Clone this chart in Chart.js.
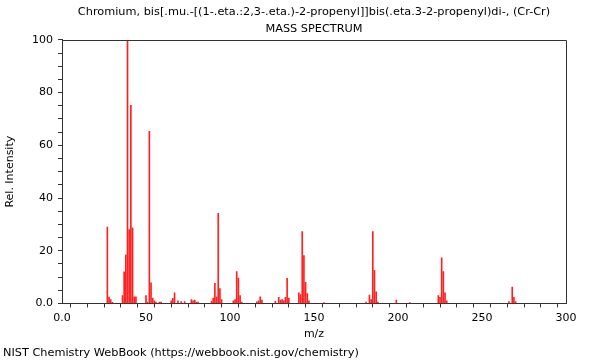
<!DOCTYPE html>
<html>
<head>
<meta charset="utf-8">
<script src="https://cdn.jsdelivr.net/npm/chart.js@4.4.0/dist/chart.umd.min.js"></script>
<style>
  body { margin: 0; background: #fff; }
  canvas { display: block; }
</style>
</head>
<body>
<canvas id="spectrum" width="600" height="360"></canvas>
<script>
// peaks (m/z, relative intensity)
const mz = [27, 28, 29, 30, 36, 37, 38, 39, 40, 41, 42, 43, 44, 50, 51, 52, 53, 54, 55, 56, 58, 59,
  65, 66, 67, 69, 71, 73, 77, 78, 79, 80, 81, 89, 90, 91, 92, 93, 94, 95, 102, 103, 104, 105, 106, 107,
  116, 117, 118, 119, 127, 129, 130, 131, 132, 133, 134, 135, 141, 142, 143, 144, 145, 146, 147, 156,
  181, 183, 184, 185, 186, 187, 188, 199, 207, 224, 225, 226, 227, 228, 229, 266, 268, 269, 270];
const intensity = [29, 2.4, 1.5, 0.4, 3, 12, 18.4, 100, 28, 75.2, 28.7, 2.5, 2.5, 3, 0.5, 65.3, 7.8, 2, 1, 0.5, 0.5, 0.5,
  1, 1.9, 4, 1, 0.7, 0.7, 1.5, 1, 1.3, 0.5, 0.5, 0.8, 2, 7.6, 2.5, 34.2, 5.6, 1.5, 1, 1.5, 12.1, 9.6, 3, 0.5,
  0.6, 1, 2.5, 1.3, 0.8, 2.3, 1.3, 1.5, 1, 2.3, 9.5, 2, 4, 3.4, 27.3, 18.2, 8, 3.7, 1, 0.3,
  0.5, 3.2, 1.5, 27.3, 12.6, 4.4, 0.5, 1.3, 0.3, 3, 2.3, 17.3, 12.1, 4, 1, 0.7, 6.2, 2.3, 0.7];

const xLabels = [0, 50, 100, 150, 200, 250, 300];
const yLabels = [0, 20, 40, 60, 80, 100];

Chart.defaults.font.family = "'DejaVu Sans', sans-serif";
Chart.defaults.font.size = 11;
Chart.defaults.color = '#000';

// top and right edges of the plot box
const frame = {
  id: 'frame',
  afterDraw(chart) {
    const { ctx, chartArea: a } = chart;
    ctx.save();
    ctx.strokeStyle = '#333';
    ctx.lineWidth = 1;
    ctx.beginPath();
    ctx.moveTo(a.left, Math.round(a.top) + 0.5);
    ctx.lineTo(Math.round(a.right) + 0.5, Math.round(a.top) + 0.5);
    ctx.lineTo(Math.round(a.right) + 0.5, a.bottom);
    ctx.stroke();
    ctx.restore();
  }
};

const tickText = (list) => (v) => list.includes(v) ? (v === 0 ? '0.0' : String(v)) : '';

new Chart(document.getElementById('spectrum'), {
  type: 'bar',
  data: {
    datasets: [{
      data: mz.map((m, i) => ({ x: m, y: intensity[i] })),
      backgroundColor: '#ff2020',
      borderWidth: 0,
      barThickness: 1
    }]
  },
  options: {
    responsive: false,
    animation: false,
    layout: { padding: { left: 3, right: 34, top: 0, bottom: 0 } },
    plugins: {
      legend: { display: false },
      tooltip: { enabled: false },
      title: {
        display: true,
        fullSize: false,
        text: ['Chromium, bis[.mu.-[(1-.eta.:2,3-.eta.)-2-propenyl]]bis(.eta.3-2-propenyl)di-, (Cr-Cr)', 'MASS SPECTRUM'],
        color: '#000',
        font: { size: 11.3, weight: 'normal', lineHeight: 1.5 },
        padding: { top: 4, bottom: 2 }
      },
      subtitle: {
        display: true,
        position: 'bottom',
        align: 'start',
        text: 'NIST Chemistry WebBook (https://webbook.nist.gov/chemistry)',
        color: '#000',
        font: { size: 11.3, weight: 'normal', lineHeight: 1.2 },
        padding: 0
      }
    },
    scales: {
      x: {
        type: 'linear',
        min: 0,
        max: 300,
        offset: false,
        afterFit: (s) => { s.height = 43; },
        ticks: { stepSize: 10, autoSkip: false, maxRotation: 0, padding: 4, callback: tickText(xLabels) },
        grid: { drawOnChartArea: false, tickLength: 4, color: '#333' },
        border: { color: '#333' },
        title: { display: true, text: 'm/z', padding: { top: 0, bottom: 6 } }
      },
      y: {
        min: 0,
        max: 100,
        afterFit: (s) => { s.width = 59; },
        ticks: { stepSize: 5, autoSkip: false, padding: 5, callback: tickText(yLabels) },
        grid: { drawOnChartArea: false, tickLength: 4, color: '#333' },
        border: { color: '#333' },
        title: { display: true, text: 'Rel. Intensity', padding: { top: 1, bottom: 0 } }
      }
    }
  },
  plugins: [frame]
});
</script>
</body>
</html>
